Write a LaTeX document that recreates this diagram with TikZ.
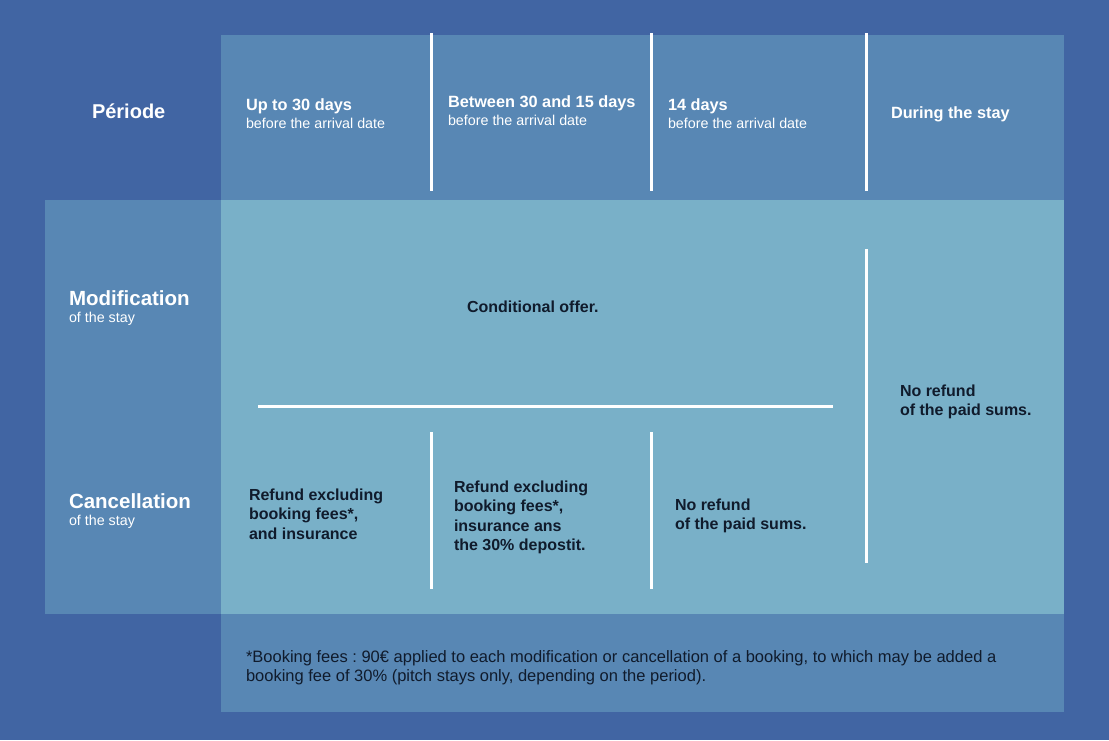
\documentclass[tikz,border=0pt]{standalone}
\usepackage{fontspec}
\setmainfont{Liberation Sans}
\definecolor{bgc}{HTML}{4165A3}
\definecolor{midc}{HTML}{5887B4}
\definecolor{lightc}{HTML}{79B0C8}
\definecolor{darktxt}{HTML}{101B2C}
\newcommand{\mysubfont}{\fontsize{14.3}{18}\selectfont\mdseries}
\newcommand{\myrowsubfont}{\fontsize{14.3}{17}\selectfont\mdseries}
\begin{document}
\begin{tikzpicture}[x=1pt,y=-1pt,
  txt/.style={inner sep=0pt, outer sep=0pt, anchor=base west, align=left, text width=260pt,
    execute at begin node={\frenchspacing\spaceskip=0pt\relax\xspaceskip=0pt\relax}},
  hdtxt/.style={txt, text=white, font=\fontsize{16.3}{18}\selectfont\bfseries},
  rowtxt/.style={txt, text=white, font=\fontsize{20.5}{17}\selectfont\bfseries},
  bodytxt/.style={txt, text=darktxt, font=\fontsize{16}{19.5}\selectfont\bfseries},
  foottxt/.style={txt, text width=850pt, text=darktxt, font=\fontsize{16.5}{19}\selectfont},
  sepline/.style={draw=white, line width=3pt}]
\useasboundingbox (0,0) rectangle (1109,740);
% panels
\fill[bgc] (0,0) rectangle (1109,740);
\fill[midc] (221,35) rectangle (1064,200);
\fill[midc] (45,200) rectangle (221,614);
\fill[lightc] (221,200) rectangle (1064,614);
\fill[midc] (221,614) rectangle (1064,712);
% separator lines
\coordinate (h1t) at (431,33); \coordinate (h1b) at (431,191);
\coordinate (h2t) at (651,33); \coordinate (h2b) at (651,191);
\coordinate (h3t) at (866,33); \coordinate (h3b) at (866,191);
\coordinate (ml) at (258,406); \coordinate (mr) at (833,406);
\coordinate (rt) at (866,249); \coordinate (rb) at (866,563);
\coordinate (c1t) at (431,432); \coordinate (c1b) at (431,589);
\coordinate (c2t) at (651,432); \coordinate (c2b) at (651,589);
\draw[sepline] (h1t) -- (h1b);
\draw[sepline] (h2t) -- (h2b);
\draw[sepline] (h3t) -- (h3b);
\draw[sepline] (ml) -- (mr);
\draw[sepline] (rt) -- (rb);
\draw[sepline] (c1t) -- (c1b);
\draw[sepline] (c2t) -- (c2b);
% header
\node[txt, text=white, font=\fontsize{20}{22}\selectfont\bfseries] (periode) at (92,118) {Période};
\node[hdtxt] (p1) at (246,110) {Up to 30 days\\{\mysubfont before the arrival date}};
\node[hdtxt] (p2) at (448,107) {Between 30 and 15 days\\{\mysubfont before the arrival date}};
\node[hdtxt] (p3) at (668,110) {14 days\\{\mysubfont before the arrival date}};
\node[hdtxt] (p4) at (891,118) {During the stay};
% row labels
\node[rowtxt] (modif) at (69,305) {Modification\\{\myrowsubfont of the stay}};
\node[rowtxt] (cancel) at (69,508) {Cancellation\\{\myrowsubfont of the stay}};
% body
\node[bodytxt] (cond) at (467,312) {Conditional offer.};
\node[bodytxt] (norefR) at (900,396) {No refund\\of the paid sums.};
\node[bodytxt] (can1) at (249,500) {Refund excluding\\booking fees*,\\and insurance};
\node[bodytxt] (can2) at (454,492) {Refund excluding\\booking fees*,\\insurance ans\\the 30\% depostit.};
\node[bodytxt] (can3) at (675,510) {No refund\\of the paid sums.};
% footnote
\node[foottxt] (foot) at (246,662) {*Booking fees : 90€ applied to each modification or cancellation of a booking, to which may be added a\\booking fee of 30\% (pitch stays only, depending on the period).};
\end{tikzpicture}
\end{document}
